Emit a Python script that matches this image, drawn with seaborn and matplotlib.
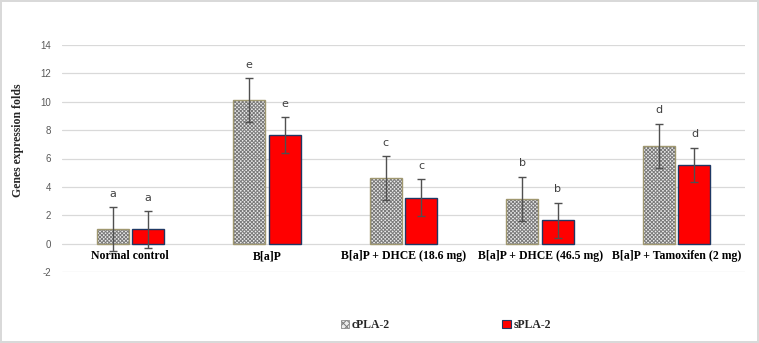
import matplotlib
matplotlib.use("Agg")
import matplotlib.pyplot as plt
import seaborn as sns
import pandas as pd
import numpy as np
from matplotlib.patches import Patch, Rectangle

groups = ["Normal control", "B[a]P", "B[a]P + DHCE (18.6 mg)",
          "B[a]P + DHCE (46.5 mg)", "B[a]P + Tamoxifen (2 mg)"]
series = ["cPLA-2", "sPLA-2"]
cpla_vals = [1.0, 10.1, 4.6, 3.15, 6.9]
cpla_err = [1.55, 1.55, 1.55, 1.55, 1.55]
spla_vals = [1.0, 7.65, 3.25, 1.63, 5.56]
spla_err = [1.3, 1.25, 1.27, 1.25, 1.2]
cpla_letters = ["a", "e", "c", "b", "d"]
spla_letters = ["a", "e", "c", "b", "d"]
yticks = [-2, 0, 2, 4, 6, 8, 10, 12, 14]

df = pd.DataFrame({
    "group": groups * 2,
    "series": [series[0]] * 5 + [series[1]] * 5,
    "value": cpla_vals + spla_vals,
})

sns.set_theme(style="white")
plt.rcParams["hatch.linewidth"] = 0.7

HATCH = "xxxxxxxxx"
fig = plt.figure(figsize=(7.59, 3.43), dpi=100)
fig.patch.set_edgecolor("#d9d9d9")
fig.patch.set_linewidth(1.5)
ax = fig.add_axes([62/759, 1-272/343, (745-62)/759, (272-45)/343])

sns.barplot(data=df, x="group", y="value", hue="series", order=groups,
            hue_order=series, palette=["#ececec", "#ff0000"], saturation=1,
            width=0.52, gap=0.1, errorbar=None, legend=False, ax=ax, zorder=2)

cont_c, cont_s = ax.containers[0], ax.containers[1]
for p in cont_c:
    p.set_hatch(HATCH)
    p.set_edgecolor("#7a7a7a")
    p.set_linewidth(0)
    x0, y0 = p.get_x(), p.get_y()
    ax.add_patch(Rectangle((x0, y0), p.get_width(), p.get_height(),
                           fill=False, edgecolor="#a09870", linewidth=1.0, zorder=3))
for p in cont_s:
    p.set_edgecolor("#1f3864")
    p.set_linewidth(1.0)

for cont, vals, errs, letters in [(cont_c, cpla_vals, cpla_err, cpla_letters),
                                  (cont_s, spla_vals, spla_err, spla_letters)]:
    xs = [p.get_x() + p.get_width() / 2 for p in cont]
    ax.errorbar(xs, vals, yerr=errs, fmt="none", ecolor="#505050",
                elinewidth=1.0, capsize=3, capthick=1.0, zorder=4)
    for x, v, e, l in zip(xs, vals, errs, letters):
        ax.text(x, v + e + 0.95, l, ha="center", va="center", fontsize=8,
                color="#404040", family="DejaVu Sans")

ax.set_ylim(-2, 14)
ax.set_xlim(-0.5, 4.5)
ax.set_yticks(yticks)
ax.set_yticklabels([str(t) for t in yticks], fontsize=7, color="#595959",
                   family="Liberation Sans")
ax.tick_params(axis="y", length=0, pad=8)
ax.set_xticks([])
ax.set_xlabel("")
ax.set_ylabel("")
ax.grid(axis="y", color="#d9d9d9", linewidth=0.9, zorder=0)
ax.set_axisbelow(True)
for s in ax.spines.values():
    s.set_visible(False)

for i, g in enumerate(groups):
    ax.text(i, -0.45, g, ha="center", va="top", fontsize=8.5, fontweight="bold",
            family="Liberation Serif", color="black")

fig.text(18/759, 1-140/343, "Genes expression folds", rotation=90, ha="center",
         va="center", fontsize=8.5, fontweight="bold", family="Liberation Serif")

handles = [Patch(facecolor="#ececec", edgecolor="#7a7a7a", hatch="xxxxx", linewidth=0.5),
           Patch(facecolor="#ff0000", edgecolor="#1f3864", linewidth=0.8)]
leg = fig.legend(handles, series, loc="center", bbox_to_anchor=(446/759, 1-325/343),
                 ncol=2, frameon=False, handlelength=0.7, handleheight=0.7,
                 handletextpad=0.25, columnspacing=9.5,
                 prop={"family": "Liberation Serif", "weight": "bold", "size": 8.5})

fig.savefig("out.png", dpi=100)
